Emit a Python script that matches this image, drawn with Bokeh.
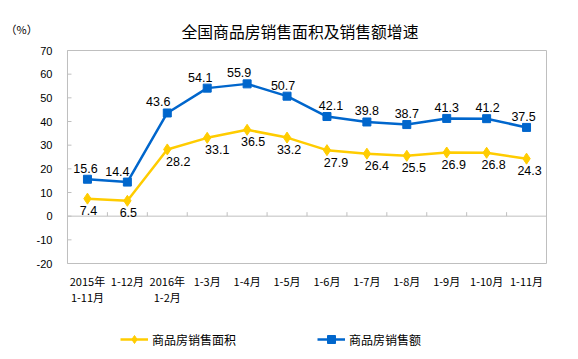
from bokeh.plotting import figure
from bokeh.models import (Label, Legend, LegendItem, FixedTicker,
                          ColumnDataSource, LabelSet, Range1d)
from bokeh.core.properties import value
from bokeh.embed import file_html
from bokeh.resources import INLINE

# ---- data ----
categories = ["2015年\n1-11月", "1-12月", "2016年\n1-2月", "1-3月", "1-4月", "1-5月",
              "1-6月", "1-7月", "1-8月", "1-9月", "1-10月", "1-11月"]
area_growth = [7.4, 6.5, 28.2, 33.1, 36.5, 33.2, 27.9, 26.4, 25.5, 26.9, 26.8, 24.3]
amount_growth = [15.6, 14.4, 43.6, 54.1, 55.9, 50.7, 42.1, 39.8, 38.7, 41.3, 41.2, 37.5]
y_ticks = [-20, -10, 0, 10, 20, 30, 40, 50, 60, 70]
title_text = "全国商品房销售面积及销售额增速"
unit_text = "（%）"
area_name = "商品房销售面积"
amount_name = "商品房销售额"

# label nudges (style)
amount_dx = [-2, -10, -9, -7, -8, -4, 4, 0, 0, 0, 1, -3]
area_dx = [1, 1, 11, 10, 6, 2, 9, 10, 7, 7, 7, 3]

BLUE = "#0066CC"
YELLOW = "#FFCC00"
GRAY = "#BFBFBF"

n = len(categories)
xs = [i + 0.5 for i in range(n)]
y_lo, y_hi = y_ticks[0], y_ticks[-1]

# layout geometry (pixels)
W, H = 578, 359
top, left, right, bottom = 20, 65, 30, 0
box_top = 50                       # page y of the plot box top
k = 213.0 / (y_hi - y_lo)          # px per unit on y
kx = 40.0                          # px per category
frame_h = H - top - bottom
y_end = y_hi + (box_top - top) / k
y_start = y_end - frame_h / k

p = figure(width=W, height=H, output_backend="svg", toolbar_location=None,
           x_range=Range1d(-2 / kx, n + 2 / kx), y_range=Range1d(y_start, y_end),
           x_axis_location=None,
           min_border_left=left, min_border_right=right, min_border_top=top,
           min_border_bottom=bottom)
p.background_fill_color = "white"
p.border_fill_color = "white"
p.outline_line_color = None
p.xgrid.visible = False
p.ygrid.visible = False

# plot box
p.quad(left=[0], right=[n], bottom=[y_lo], top=[y_hi], fill_color=None,
       line_color=GRAY, line_width=1)

# y axis
p.yaxis.ticker = FixedTicker(ticks=y_ticks)
p.yaxis.major_label_overrides = {t: str(t) for t in y_ticks}
p.yaxis.axis_line_color = None
p.yaxis.major_tick_line_color = None
p.yaxis.minor_tick_line_color = None
p.yaxis.major_label_standoff = 7
p.yaxis.major_label_text_font = "Liberation Sans"
p.yaxis.major_label_text_font_size = "11px"
p.yaxis.major_label_text_color = "#000000"
# inner y ticks
p.segment(x0=[0] * len(y_ticks), y0=y_ticks, x1=[4 / kx] * len(y_ticks), y1=y_ticks,
          line_color=GRAY, line_width=1)

# zero line and small category ticks
p.segment(x0=[0], y0=[0], x1=[n], y1=[0], line_color=GRAY, line_width=1)
bx = list(range(1, n))
p.segment(x0=bx, y0=[0] * len(bx), x1=bx, y1=[4 / k] * len(bx), line_color=GRAY, line_width=1)

# category labels (below the box)
row1 = [c.split("\n")[0] for c in categories]
row2 = [c.split("\n")[1] if "\n" in c else "" for c in categories]
cat_src = ColumnDataSource(dict(x=xs, y=[y_lo] * n, r1=row1, r2=row2))
for col, off in (("r1", -17), ("r2", -33)):
    p.add_layout(LabelSet(x="x", y="y", text=col, source=cat_src, y_offset=off,
                          text_align="center", text_baseline="middle",
                          text_font=value("Noto Sans CJK SC"), text_font_size=value("11px"),
                          text_color="#000000"))

# series
l_area = p.line(xs, area_growth, line_color=YELLOW, line_width=2.5)
m_area = p.scatter(xs, area_growth, marker="diamond", size=11, fill_color=YELLOW, line_color=YELLOW)
l_amt = p.line(xs, amount_growth, line_color=BLUE, line_width=2.5)
m_amt = p.scatter(xs, amount_growth, marker="square", size=8, fill_color=BLUE, line_color=BLUE)

src_amt = ColumnDataSource(dict(x=xs, y=amount_growth, t=[f"{v:.1f}" for v in amount_growth], dx=amount_dx))
src_area = ColumnDataSource(dict(x=xs, y=area_growth, t=[f"{v:.1f}" for v in area_growth], dx=area_dx))
p.add_layout(LabelSet(x="x", y="y", text="t", source=src_amt, x_offset="dx", y_offset=11,
                      text_align="center", text_baseline="middle", text_font=value("Liberation Sans"),
                      text_font_size=value("12.5px"), text_color="#000000"))
p.add_layout(LabelSet(x="x", y="y", text="t", source=src_area, x_offset="dx", y_offset=-12,
                      text_align="center", text_baseline="middle", text_font=value("Liberation Sans"),
                      text_font_size=value("12.5px"), text_color="#000000"))

# title (inside the extended frame) and unit label (side panel above)
p.add_layout(Label(x=181 - left, y=H - bottom - 31, x_units="screen", y_units="screen",
                   text=title_text, text_align="left", text_baseline="middle",
                   text_font="Noto Sans CJK SC", text_font_size="15.8px",
                   text_color="#000000"))
p.add_layout(Label(x=-60, y=top - 28, x_units="screen", y_units="screen", text=unit_text,
                   text_align="left", text_baseline="middle", text_font="Noto Sans CJK SC",
                   text_font_size="11px", text_color="#000000"), "above")

# legend (inside the extended frame, below the category labels)
legend = Legend(items=[LegendItem(label=area_name, renderers=[l_area, m_area]),
                       LegendItem(label=amount_name, renderers=[l_amt, m_amt])],
                orientation="horizontal", location=(55, 10),
                glyph_width=28, glyph_height=20, label_height=20, label_standoff=4,
                spacing=81, padding=0, margin=0, border_line_color=None,
                background_fill_alpha=0, label_text_font="Noto Sans CJK SC",
                label_text_font_size="12px", label_text_color="#000000")
p.add_layout(legend, "center")

open("out.html", "w").write(file_html(p, INLINE))
